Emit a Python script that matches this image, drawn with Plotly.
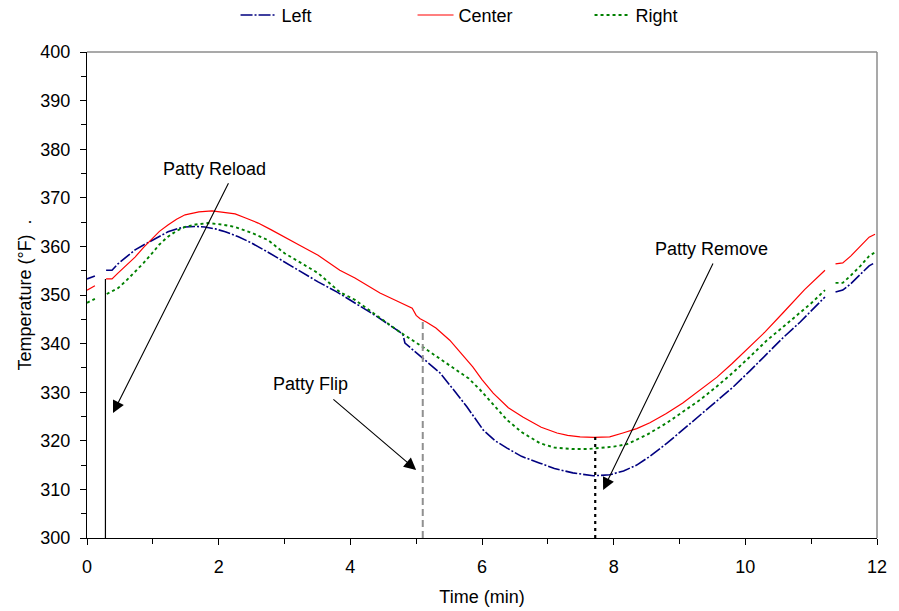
import plotly.graph_objects as go

# ---------------- data ----------------
left_x = [0, 0.12, None, 0.29, 0.38, 0.47, 0.6, 0.73, 0.86, 0.99, 1.1, 1.23, 1.36, 1.49, 1.64, 1.79, 1.95,
          2.1, 2.3, 2.5, 2.75, 3.0, 3.25, 3.51, 3.8, 4.07, 4.4, 4.75, 4.8, 4.83, 5.1, 5.36, 5.55, 5.77,
          6.02, 6.2, 6.38, 6.6, 6.88, 7.1, 7.38, 7.55, 7.69, 7.94, 8.15, 8.35, 8.55, 8.81, 9.05, 9.31,
          9.55, 9.81, 10.07, 10.33, 10.58, 10.83, 11.0, 11.21, None, 11.37, 11.48, 11.6, 11.75, 11.88, 11.96]
left_y = [353.3, 353.9, None, 355.1, 355.1, 356.4, 357.9, 359.3, 360.3, 361.3, 362.1, 363.0, 363.6, 364.0,
          364.1, 364.0, 363.6, 363.0, 362.0, 360.7, 358.8, 356.8, 354.8, 352.7, 350.6, 348.4, 345.6,
          342.4, 341.8, 340.1, 337.0, 334.0, 330.8, 327.0, 322.2, 320.0, 318.5, 316.8, 315.4, 314.3,
          313.4, 313.0, 312.8, 313.0, 313.8, 315.0, 316.8, 319.5, 322.3, 325.3, 328.0, 331.0, 334.4,
          338.0, 341.3, 344.4, 346.7, 349.6, None, 350.6, 351.0, 352.3, 354.3, 356.0, 356.6]

center_x = [0, 0.12, None, 0.29, 0.38, 0.47, 0.6, 0.73, 0.86, 0.99, 1.1, 1.23, 1.36, 1.49, 1.7, 1.9, 2.1,
            2.25, 2.4, 2.6, 2.8, 3.0, 3.25, 3.51, 3.84, 4.07, 4.45, 4.7, 4.94, 5.0, 5.06, 5.16, 5.3, 5.51,
            5.7, 5.86, 6.0, 6.17, 6.4, 6.62, 6.9, 7.14, 7.3, 7.49, 7.7, 7.94, 8.14, 8.35, 8.55, 8.8, 9.05,
            9.3, 9.57, 9.8, 10.07, 10.3, 10.57, 10.9, 11.21, None, 11.37, 11.48, 11.6, 11.75, 11.88, 11.97]
center_y = [351.0, 351.9, None, 353.3, 353.3, 354.5, 356.1, 357.8, 359.8, 361.7, 363.1, 364.4, 365.6,
            366.5, 367.1, 367.3, 367.0, 366.7, 365.9, 364.8, 363.4, 362.0, 360.1, 358.2, 355.1, 353.5,
            350.4, 348.8, 347.3, 345.8, 345.1, 344.4, 343.2, 340.7, 337.8, 335.2, 332.6, 329.8, 326.8,
            324.9, 322.8, 321.6, 321.1, 320.8, 320.7, 320.8, 321.6, 322.5, 323.7, 325.6, 327.8, 330.3,
            333.1, 335.9, 339.3, 342.4, 346.3, 351.1, 355.1, None, 356.4, 356.6, 358.0, 360.0, 361.9, 362.5]

right_x = [0, 0.12, None, 0.3, 0.47, 0.6, 0.73, 0.86, 0.99, 1.1, 1.23, 1.36, 1.49, 1.65, 1.84, 2.05, 2.25,
           2.5, 2.75, 3.0, 3.25, 3.51, 3.84, 4.07, 4.4, 4.75, 5.1, 5.35, 5.62, 5.8, 5.97, 6.2, 6.38, 6.6,
           6.88, 7.1, 7.38, 7.6, 7.79, 8.0, 8.2, 8.5, 8.81, 9.05, 9.31, 9.55, 9.81, 10.07, 10.33, 10.58,
           10.83, 11.0, 11.21, None, 11.37, 11.48, 11.6, 11.75, 11.88, 11.97]
right_y = [348.4, 349.2, None, 350.2, 351.4, 353.0, 354.7, 356.6, 358.6, 360.4, 362.0, 363.2, 364.0, 364.5,
           364.8, 364.5, 364.0, 362.8, 361.3, 358.6, 356.6, 354.5, 350.6, 349.0, 345.8, 342.4, 339.3,
           337.0, 334.6, 332.8, 330.5, 327.0, 324.3, 321.8, 319.5, 318.6, 318.3, 318.3, 318.5, 318.8,
           319.3, 321.2, 323.7, 326.0, 328.4, 331.0, 334.0, 337.3, 340.7, 343.5, 346.3, 348.3, 351.0,
           None, 352.5, 352.5, 354.0, 356.0, 358.0, 358.8]

# event markers (x position, top value)
event_names = ["Patty Reload", "Patty Flip", "Patty Remove"]
event_x = [0.28, 5.1, 7.72]
event_top = [353.3, 344.9, 320.8]
# annotation arrow head / tail / text positions (data units)
event_head = [(0.395, 325.7), (5.0, 314.0), (7.84, 309.9)]
event_tail = [(2.16, 373.3), (3.72, 328.8), (9.52, 356.8)]
event_text = [(1.93, 375.9), (3.39, 331.7), (9.49, 359.5)]

FONT = "Liberation Sans, Arial, sans-serif"
FS = 18

fig = go.Figure()
fig.add_trace(go.Scatter(x=left_x, y=left_y, name="Left", mode="lines", connectgaps=False,
                         line=dict(color="#000080", width=1.6, dash="12px,2px,2px,2px")))
fig.add_trace(go.Scatter(x=center_x, y=center_y, name="Center", mode="lines", connectgaps=False,
                         line=dict(color="#FF0000", width=1.2)))
fig.add_trace(go.Scatter(x=right_x, y=right_y, name="Right", mode="lines", connectgaps=False,
                         line=dict(color="#008000", width=1.9, dash="3px,3px")))

vstyles = [dict(color="#000000", width=1.2),
           dict(color="#909090", width=2, dash="7px,4px"),
           dict(color="#000000", width=2.2, dash="3px,4px")]
for ex, et, st in zip(event_x, event_top, vstyles):
    fig.add_trace(go.Scatter(x=[ex, ex], y=[300, et], mode="lines", line=st,
                             showlegend=False, hoverinfo="skip"))

annotations = []
for name, h, t, tx in zip(event_names, event_head, event_tail, event_text):
    annotations.append(dict(x=h[0], y=h[1], ax=t[0], ay=t[1], xref="x", yref="y",
                            axref="x", ayref="y", text="", showarrow=True,
                            arrowhead=2, arrowsize=2.2, arrowwidth=1.1, arrowcolor="#000000"))
    annotations.append(dict(x=tx[0], y=tx[1], xref="x", yref="y", text=name, showarrow=False,
                            font=dict(size=FS, color="#000000", family=FONT)))

fig.update_layout(
    width=899, height=611,
    margin=dict(l=87, r=22, t=52, b=73, autoexpand=False),
    paper_bgcolor="white", plot_bgcolor="white",
    font=dict(family=FONT, size=FS, color="#000000"),
    showlegend=True,
    legend=dict(orientation="h", xref="container", yref="container", x=0.262, y=0.975,
                xanchor="left", yanchor="middle", entrywidth=126, entrywidthmode="pixels",
                font=dict(size=FS, family=FONT), bgcolor="rgba(0,0,0,0)", itemwidth=36),
    annotations=annotations,
    shapes=[
        dict(type="line", xref="paper", yref="paper", x0=0, x1=1, y0=1, y1=1,
             line=dict(color="#8c8c8c", width=1.5)),
        dict(type="line", xref="paper", yref="paper", x0=1, x1=1, y0=0, y1=1,
             line=dict(color="#8c8c8c", width=1.5)),
    ],
)
fig.update_xaxes(range=[0, 12], tickvals=[0, 2, 4, 6, 8, 10, 12], showgrid=False, zeroline=False,
                 automargin=False,
                 showline=True, linecolor="#000000", linewidth=1, ticks="outside", ticklen=6,
                 tickcolor="#000000", minor=dict(tickvals=[1, 3, 5, 7, 9, 11], ticks="outside",
                                                   ticklen=5, tickcolor="#000000"),
                 ticklabelstandoff=6,
                 title=dict(text="Time (min)", font=dict(size=FS), standoff=14),
                 tickfont=dict(size=FS))
fig.update_yaxes(range=[300, 400], dtick=10, showgrid=False, zeroline=False,
                 automargin=False,
                 showline=True, linecolor="#000000", linewidth=1, ticks="outside", ticklen=6,
                 tickcolor="#000000", minor=dict(dtick=5, ticks="outside", ticklen=5, tickcolor="#000000"),
                 ticklabelstandoff=6,
                 title=dict(text="Temperature (°F)  .", font=dict(size=FS), standoff=4),
                 tickfont=dict(size=FS))

fig.write_html("out.html")
